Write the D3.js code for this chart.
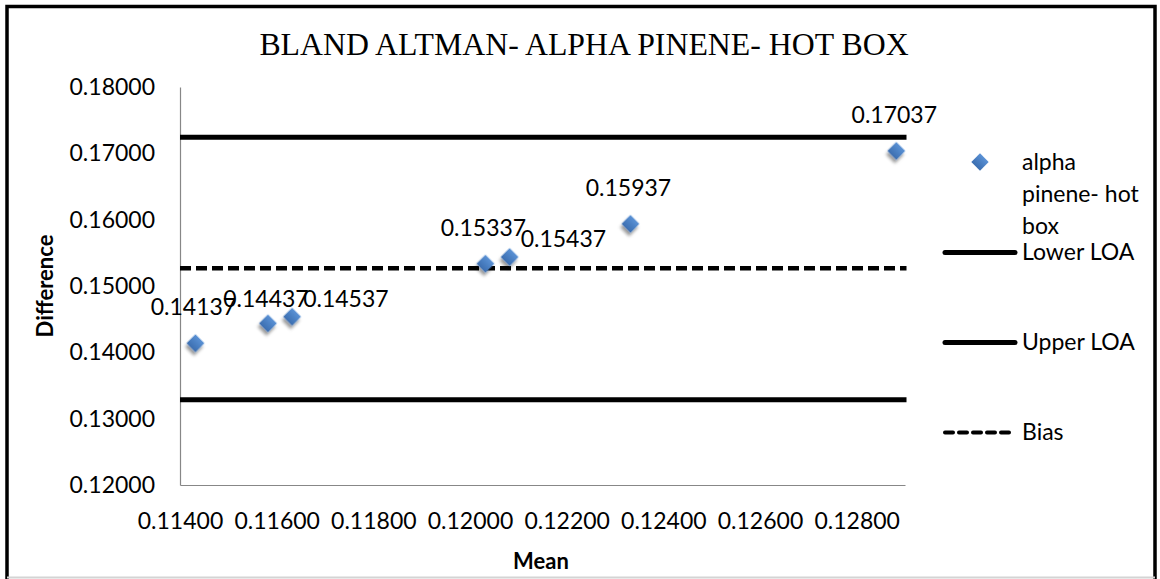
<!DOCTYPE html>
<html>
<head>
<meta charset="utf-8">
<script src="https://cdn.jsdelivr.net/npm/d3@7"></script>
<style>
  body { margin: 0; background: #fff; }
  text { font-family: Lato, "Open Sans", sans-serif; fill: #000; }
</style>
</head>
<body>
<div id="container"></div>
<script>
/* CONSTANTS AND GLOBALS */
const width = 1160,
  height = 579,
  margin = { top: 87, bottom: 94, left: 180, right: 255 };

/* DATA */
const chartTitle = "BLAND ALTMAN- ALPHA PINENE- HOT BOX";
const seriesName = ["alpha", "pinene- hot", "box"];
const meanVals = [0.11432, 0.11582, 0.11632, 0.12032, 0.12082, 0.12332, 0.12882];
const diffVals = [0.14137, 0.14437, 0.14537, 0.15337, 0.15437, 0.15937, 0.17037];
const lineNames = ["Lower LOA", "Upper LOA", "Bias"];
const lineVals = [0.17244, 0.13287, 0.15266];
const lineSpan = [0.114, 0.129];
const xTicks = [0.114, 0.116, 0.118, 0.120, 0.122, 0.124, 0.126, 0.128];
const yTicks = [0.12, 0.13, 0.14, 0.15, 0.16, 0.17, 0.18];

// where each data label sits (some were dragged by hand in the original)
const labelPlace = ["above", "above", "right", "above", "right", "above", "above"];
const labelDy = [-28, -16, -10, -28, -10, -28, -28];

let xScale, yScale;

init();

function init() {
  xScale = d3.scaleLinear()
    .domain(lineSpan)
    .range([margin.left, width - margin.right]);

  yScale = d3.scaleLinear()
    .domain([0.12, 0.18])
    .range([height - margin.bottom, margin.top]);

  draw();
}

function draw() {
  const svg = d3.select("#container")
    .append("svg")
    .attr("width", width)
    .attr("height", height);

  const defs = svg.append("defs");
  const grad = defs.append("linearGradient")
    .attr("id", "blue")
    .attr("x1", 0).attr("y1", 0).attr("x2", 0).attr("y2", 1);
  grad.append("stop").attr("offset", "0%").attr("stop-color", "#5a91d5");
  grad.append("stop").attr("offset", "100%").attr("stop-color", "#3b6eb0");

  const shadow = defs.append("filter")
    .attr("id", "shadow")
    .attr("x", "-50%").attr("y", "-50%").attr("width", "200%").attr("height", "200%");
  shadow.append("feDropShadow")
    .attr("dx", 1.5).attr("dy", 3.5)
    .attr("stdDeviation", 1.8)
    .attr("flood-color", "#000")
    .attr("flood-opacity", 0.4);

  // frame
  svg.append("path")
    .attr("d", "M7,579 V6.5 H1155 V579")
    .attr("fill", "none")
    .attr("stroke", "#000")
    .attr("stroke-width", 3.5);
  svg.append("line")
    .attr("x1", 7).attr("x2", 1155)
    .attr("y1", 577.5).attr("y2", 577.5)
    .attr("stroke", "#d4d4d4")
    .attr("stroke-width", 2);

  // title
  svg.append("text")
    .attr("x", 584)
    .attr("y", 55)
    .attr("text-anchor", "middle")
    .style("font-family", "'Liberation Serif', 'Times New Roman', serif")
    .style("font-size", "31.8px")
    .text(chartTitle);

  // axes
  const xAxis = svg.append("g")
    .attr("transform", `translate(0,${height - margin.bottom})`)
    .call(d3.axisBottom(xScale)
      .tickValues(xTicks)
      .tickSize(0)
      .tickPadding(28)
      .tickFormat(d3.format(".5f")));

  const yAxis = svg.append("g")
    .attr("transform", `translate(${margin.left},0)`)
    .call(d3.axisLeft(yScale)
      .tickValues(yTicks)
      .tickSize(0)
      .tickPadding(25)
      .tickFormat(d3.format(".5f")));

  [xAxis, yAxis].forEach(ax => {
    ax.select(".domain").attr("stroke", "#878787").attr("stroke-width", 1.2);
    ax.selectAll("text")
      .style("font-family", "Lato, sans-serif")
      .style("font-size", "23px")
      .attr("fill", "#000");
  });

  // axis titles
  svg.append("text")
    .attr("x", 541)
    .attr("y", 569)
    .attr("text-anchor", "middle")
    .style("font-size", "22px")
    .style("font-weight", "bold")
    .text("Mean");

  svg.append("text")
    .attr("transform", "translate(53,286) rotate(-90)")
    .attr("text-anchor", "middle")
    .style("font-size", "22px")
    .style("font-weight", "bold")
    .text("Difference");

  // LOA and bias lines
  svg.selectAll("line.ref")
    .data(lineVals)
    .join("line")
    .attr("class", "ref")
    .attr("x1", xScale(lineSpan[0]))
    .attr("x2", xScale(lineSpan[1]) + 1.5)
    .attr("y1", d => yScale(d))
    .attr("y2", d => yScale(d))
    .attr("stroke", "#000")
    .attr("stroke-width", (d, i) => i == 2 ? 4.5 : 5)
    .attr("stroke-dasharray", (d, i) => i == 2 ? "11,5" : null);

  // points
  const diamond = d3.symbol(d3.symbolSquare, 160);
  svg.selectAll("path.pt")
    .data(meanVals)
    .join("path")
    .attr("class", "pt")
    .attr("d", diamond)
    .attr("transform", (d, i) => `translate(${xScale(d)},${yScale(diffVals[i])}) rotate(45)`)
    .attr("fill", "url(#blue)")
    .attr("filter", "url(#shadow)");

  // data labels
  svg.selectAll("text.lbl")
    .data(meanVals)
    .join("text")
    .attr("class", "lbl")
    .attr("x", (d, i) => labelPlace[i] == "right" ? xScale(d) + 11 : xScale(d) - 2)
    .attr("y", (d, i) => yScale(diffVals[i]) + labelDy[i])
    .attr("text-anchor", (d, i) => labelPlace[i] == "right" ? "start" : "middle")
    .style("font-size", "23px")
    .text((d, i) => d3.format(".5f")(diffVals[i]));

  // legend
  const legend = svg.append("g");
  legend.append("path")
    .attr("d", d3.symbol(d3.symbolSquare, 150))
    .attr("transform", "translate(980,162) rotate(45)")
    .attr("fill", "url(#blue)");
  legend.append("text")
    .attr("x", 1022)
    .attr("y", 170)
    .style("font-size", "23px")
    .selectAll("tspan")
    .data(seriesName)
    .join("tspan")
    .attr("x", 1022)
    .attr("dy", (d, i) => i == 0 ? 0 : 32)
    .text(d => d);

  const legendY = [260, 350, 440];
  lineNames.forEach((name, i) => {
    legend.append("line")
      .attr("x1", 945).attr("x2", 1015)
      .attr("y1", legendY[i] - 7.5).attr("y2", legendY[i] - 7.5)
      .attr("stroke", "#000")
      .attr("stroke-width", i == 2 ? 4 : 5)
      .attr("stroke-linecap", "round")
      .attr("stroke-dasharray", i == 2 ? "8,6" : null);
    legend.append("text")
      .attr("x", 1022)
      .attr("y", legendY[i])
      .style("font-size", "23px")
      .text(name);
  });
}
</script>
</body>
</html>
